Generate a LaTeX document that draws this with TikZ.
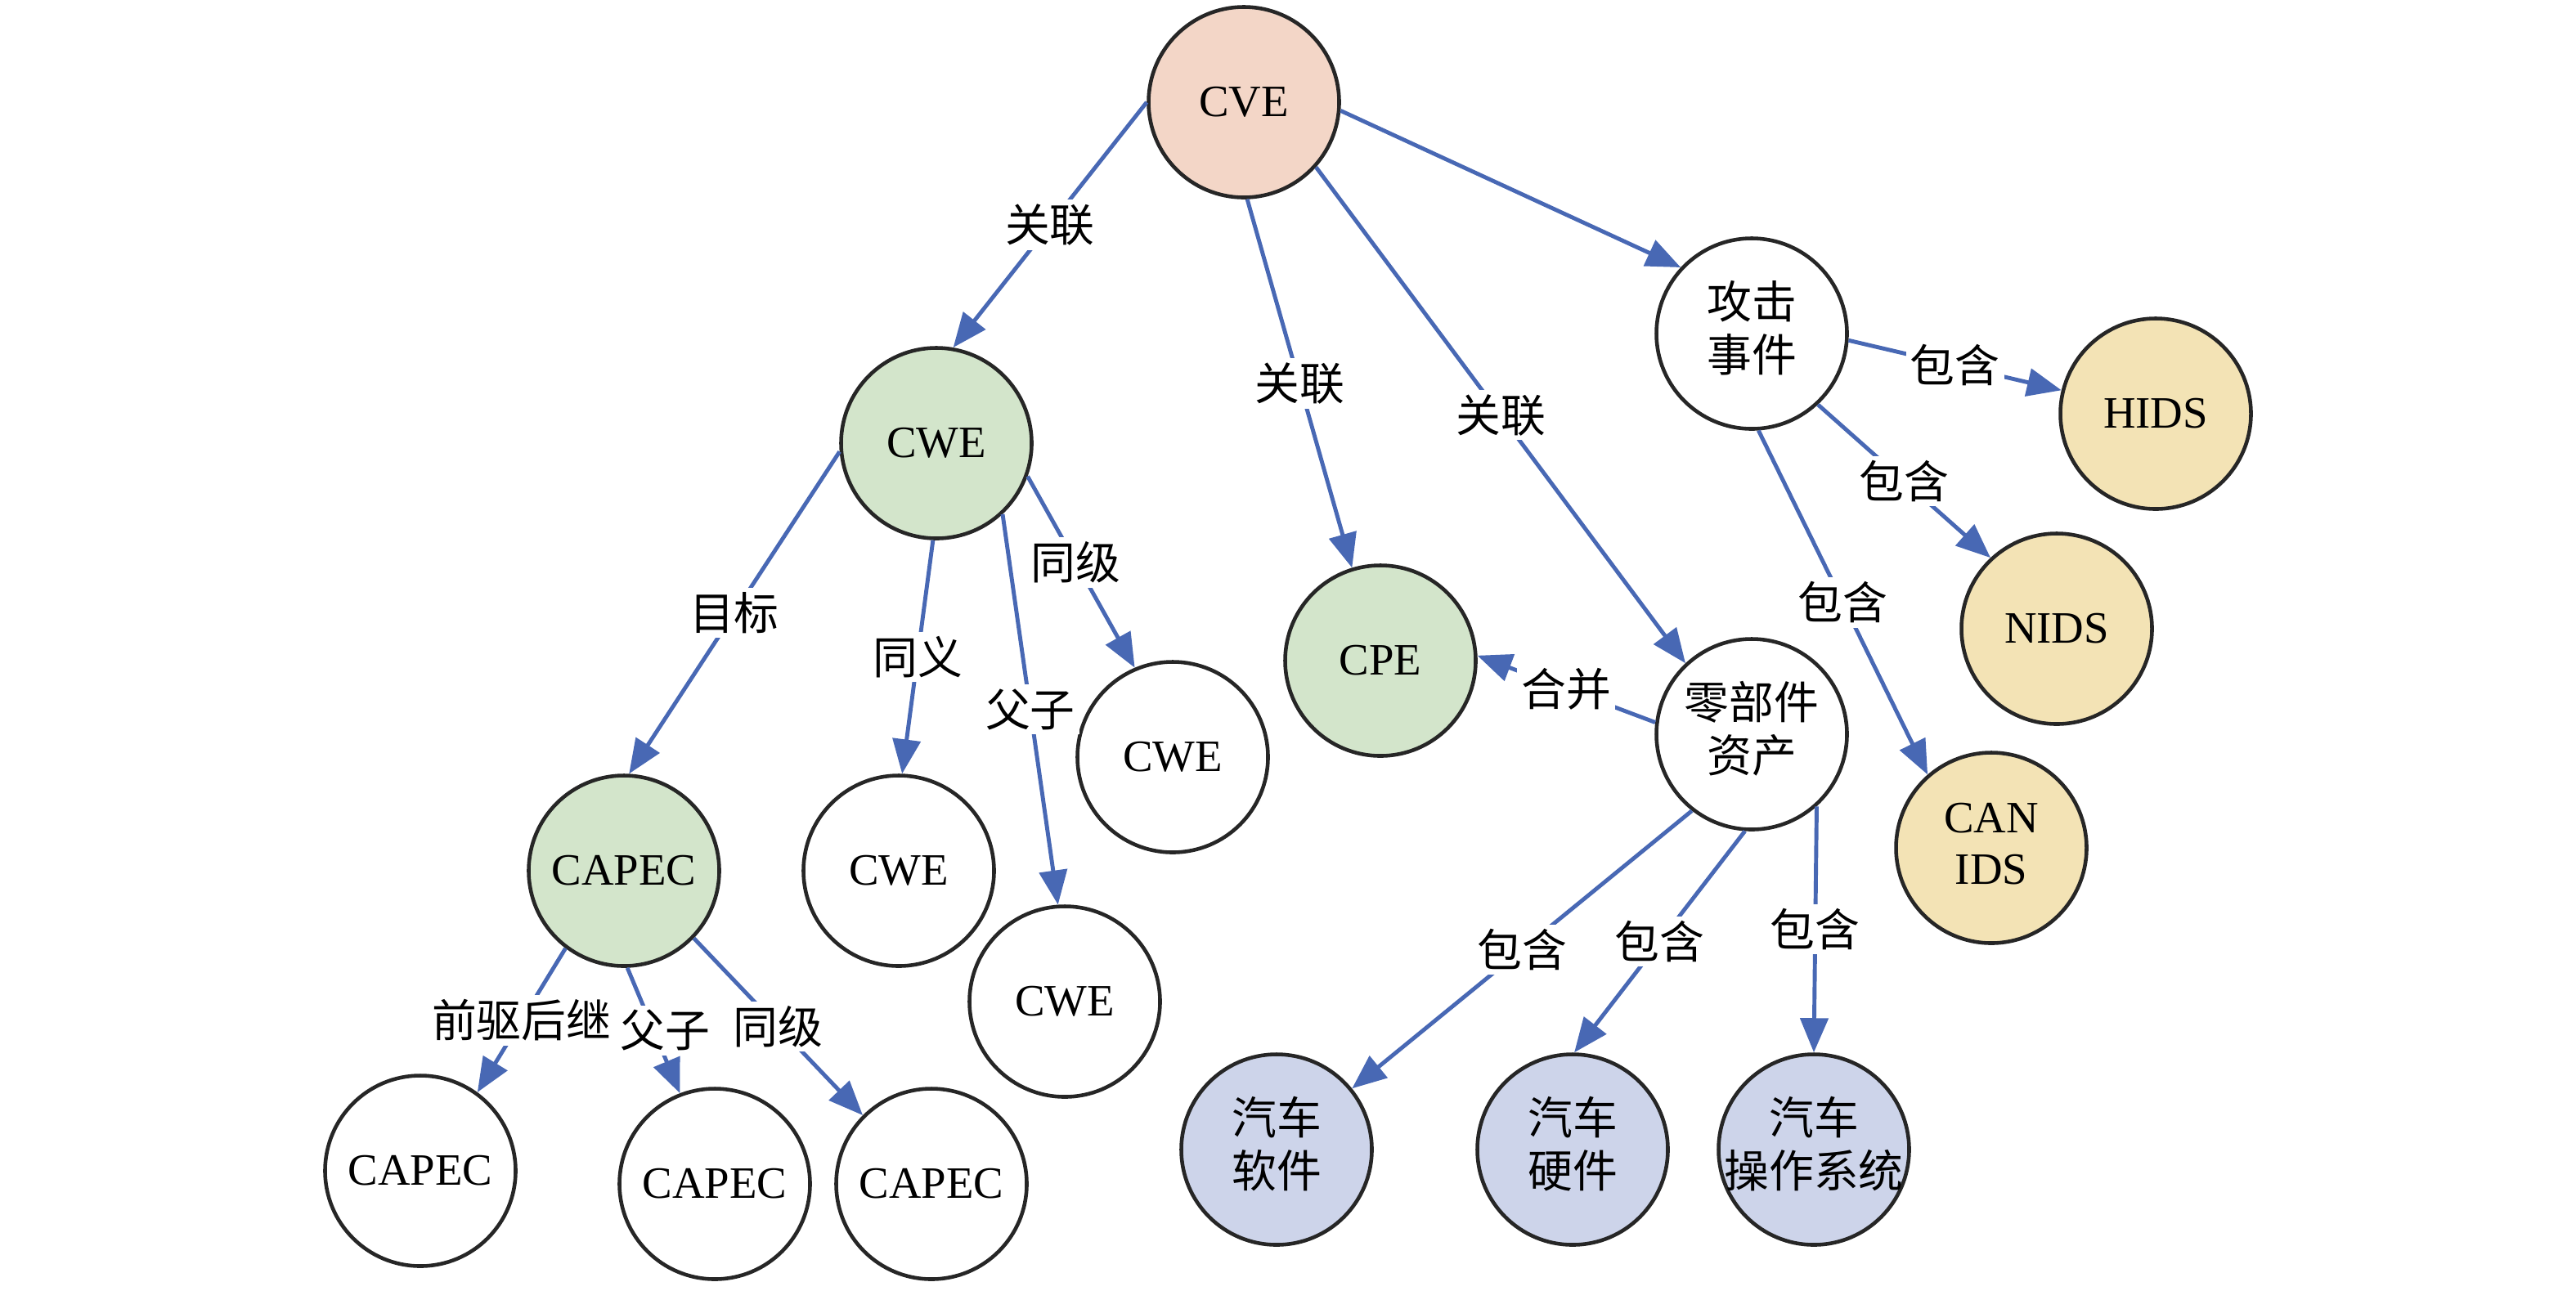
\documentclass[tikz,border=0pt]{standalone}
\usepackage{fontspec}
\setmainfont{Liberation Serif}
\newfontfamily\cjk{Noto Sans CJK SC}
\usetikzlibrary{arrows.meta}
\definecolor{cvepink}{RGB}{243,214,199}
\definecolor{nodegreen}{RGB}{211,229,203}
\definecolor{idsyellow}{RGB}{243,227,181}
\definecolor{carblue}{RGB}{205,212,234}
\definecolor{edgeblue}{RGB}{72,104,180}
\newcommand{\bigfont}{\fontsize{15.6}{18}\selectfont}
\newcommand{\zh}{\cjk\bigfont}
\newcommand{\twoline}[2]{\makebox[0pt]{\begin{tabular}{@{}c@{}}#1\\#2\end{tabular}}}
\begin{document}
\begin{tikzpicture}[font=\bigfont]
        \tikzstyle{ent} = [circle, draw=black!85, line width=1.3pt, minimum size=2.33cm, inner sep=0pt, text=black]
        \tikzstyle{line} = [-{Triangle[length=0.42cm,width=0.34cm]},draw=edgeblue,line width=1.4pt]
        \tikzstyle{lbl} = [fill=white,inner sep=1.5pt,font=\zh,text=black]
        \useasboundingbox (0,0) rectangle (31.5,-15.78);
        \node[ent,fill=cvepink] (cve) at (15.21,-1.25) {CVE};
        \node[ent,fill=nodegreen] (cwe) at (11.45,-5.42) {CWE};
        \node[ent,font=\zh] (attack) at (21.42,-4.08) {\twoline{攻击}{事件}};
        \node[ent,fill=idsyellow] (hids) at (26.36,-5.06) {HIDS};
        \node[ent,fill=idsyellow] (nids) at (25.15,-7.69) {NIDS};
        \node[ent,fill=idsyellow] (canids) at (24.35,-10.37) {\twoline{CAN}{IDS}};
        \node[ent,fill=nodegreen] (cpe) at (16.88,-8.08) {CPE};
        \node[ent,font=\zh] (asset) at (21.42,-8.98) {\twoline{零部件}{资产}};
        \node[ent] (cwesib) at (14.34,-9.26) {CWE};
        \node[ent] (cwesyn) at (10.99,-10.65) {CWE};
        \node[ent] (cwechild) at (13.02,-12.25) {CWE};
        \node[ent,fill=nodegreen] (capec) at (7.63,-10.65) {CAPEC};
        \node[ent] (capecpre) at (5.14,-14.32) {CAPEC};
        \node[ent] (capecchild) at (8.74,-14.48) {CAPEC};
        \node[ent] (capecsib) at (11.39,-14.48) {CAPEC};
        \node[ent,fill=carblue,font=\zh] (software) at (15.61,-14.06) {\twoline{汽车}{软件}};
        \node[ent,fill=carblue,font=\zh] (hardware) at (19.23,-14.06) {\twoline{汽车}{硬件}};
        \node[ent,fill=carblue,font=\zh] (caros) at (22.18,-14.06) {\twoline{汽车}{操作系统}};
        \draw[line] (cve.180) to node[lbl] {关联} (cwe.80);
        \draw[line] (cve.272) to node[lbl] {关联} (cpe.107);
        \draw[line] (cve.318) to node[lbl] {关联} (asset.133);
        \draw[line] (cve.355) to (attack.137);
        \draw[line] (cwe.185) to node[lbl] {目标} (capec.87);
        \draw[line] (cwe.268) to node[lbl] {同义} (cwesyn.88);
        \draw[line] (cwe.313) to node[lbl] {父子} (cwechild.94);
        \draw[line] (cwe.340) to node[lbl,pos=0.45] {同级} (cwesib.113);
        \draw[line] (capec.233) to node[lbl] {前驱后继} (capecpre.54);
        \draw[line] (capec.272) to node[lbl,xshift=0.14cm] {父子} (capecchild.111);
        \draw[line] (capec.316) to node[lbl] {同级} (capecsib.135);
        \draw[line] (attack.356) to node[lbl] {包含} (hids.166);
        \draw[line] (attack.313) to node[lbl] {包含} (nids.133);
        \draw[line] (attack.274) to node[lbl] {包含} (canids.131);
        \draw[line] (asset.173) to node[lbl] {合并} (cpe.3);
        \draw[line] (asset.232) to node[lbl] {包含} (software.39);
        \draw[line] (asset.266) to node[lbl] {包含} (hardware.89);
        \draw[line] (asset.312) to node[lbl] {包含} (caros.90);
    \end{tikzpicture}
\end{document}
